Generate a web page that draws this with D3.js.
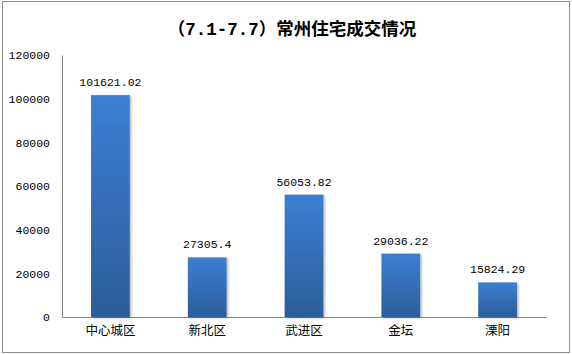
<!DOCTYPE html>
<html><head><meta charset="utf-8">
<script src="https://cdn.jsdelivr.net/npm/d3@7"></script>
<style>body{margin:0;background:#fff}svg{display:block}</style>
</head><body>
<svg id="c" width="572" height="354"></svg>
<script>
const titleParts = ["（", "7.1-7.7", "）常州住宅成交情况"];
const categories = ["中心城区", "新北区", "武进区", "金坛", "溧阳"];
const values = [101621.02, 27305.4, 56053.82, 29036.22, 15824.29];
const valueLabels = ["101621.02", "27305.4", "56053.82", "29036.22", "15824.29"];
const yTicks = [0, 20000, 40000, 60000, 80000, 100000, 120000];

const svg = d3.select("#c");
const m = {left: 62, right: 546, top: 55, bottom: 317};

svg.append("rect").attr("x", 2.5).attr("y", 1.5).attr("width", 567).attr("height", 351)
  .attr("fill", "#fff").attr("stroke", "#8c8c8c").attr("stroke-width", 1);

const defs = svg.append("defs");
const g = defs.append("linearGradient").attr("id", "bg").attr("x1", 0).attr("y1", 0).attr("x2", 0).attr("y2", 1);
g.append("stop").attr("offset", "0%").attr("stop-color", "#3b7fd2");
g.append("stop").attr("offset", "100%").attr("stop-color", "#2c5d9a");
const f = defs.append("filter").attr("id", "sh").attr("x", "-20%").attr("y", "-5%").attr("width", "150%").attr("height", "115%");
f.append("feDropShadow").attr("dx", 1.5).attr("dy", 1).attr("stdDeviation", 1.2).attr("flood-color", "#000").attr("flood-opacity", 0.3);

const x = d3.scaleBand().domain(categories).range([m.left, m.right]).paddingInner(0.6).paddingOuter(0.3);
const y = d3.scaleLinear().domain([0, 120000]).range([m.bottom, m.top]);

const t = svg.append("text").attr("x", 292).attr("y", 35).attr("text-anchor", "middle")
  .attr("font-family", "'Noto Sans CJK SC', sans-serif").attr("font-weight", "bold")
  .attr("font-size", 17.5).attr("fill", "#000");
t.append("tspan").text(titleParts[0]);
t.append("tspan").attr("font-family", "'Liberation Mono', monospace").text(titleParts[1]);
t.append("tspan").text(titleParts[2]);

// y axis
const ya = svg.append("g").attr("transform", `translate(${m.left},0)`)
  .call(d3.axisLeft(y).tickValues(yTicks).tickSize(0).tickPadding(12).tickFormat(d3.format("d")));
ya.select(".domain").attr("stroke", "#868686");
ya.selectAll("text").attr("font-family", "'Liberation Mono', monospace").attr("font-size", 11.5).attr("fill", "#000");

// x axis
const xa = svg.append("g").attr("transform", `translate(0,${m.bottom})`)
  .call(d3.axisBottom(x).tickSize(0).tickPadding(9));
xa.select(".domain").attr("stroke", "#868686");
xa.selectAll("text").attr("font-family", "'Noto Sans CJK SC', sans-serif").attr("font-size", 12.5).attr("fill", "#000");

svg.append("g").selectAll("rect").data(values).join("rect")
  .attr("x", (d, i) => x(categories[i]))
  .attr("width", x.bandwidth())
  .attr("y", d => y(d))
  .attr("height", d => y(0) - y(d))
  .attr("fill", "url(#bg)").attr("filter", "url(#sh)");

svg.append("g").selectAll("text").data(values).join("text")
  .attr("x", (d, i) => x(categories[i]) + x.bandwidth() / 2)
  .attr("y", d => y(d) - 9)
  .attr("text-anchor", "middle")
  .attr("font-family", "'Liberation Mono', monospace").attr("font-size", 11.5).attr("fill", "#000")
  .text((d, i) => valueLabels[i]);
</script>
</body></html>
